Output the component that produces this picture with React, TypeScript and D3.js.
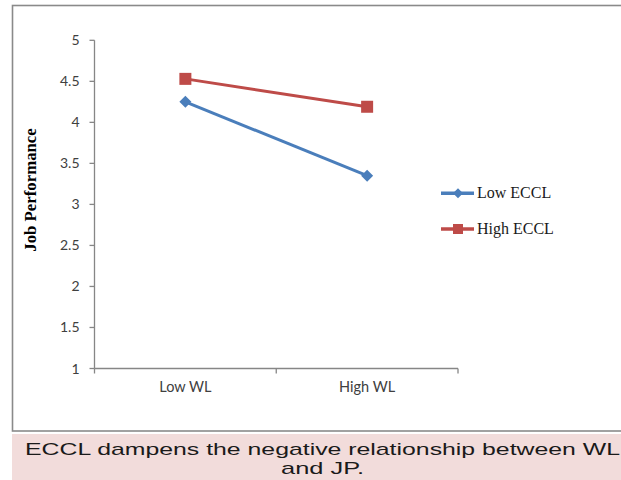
import React from "react";
import * as d3 from "d3";

const categories = ["Low WL", "High WL"];
const lowECCL = [4.25, 3.35];
const highECCL = [4.53, 4.19];
const yTicks = [1, 1.5, 2, 2.5, 3, 3.5, 4, 4.5, 5];
const seriesNames = ["Low ECCL", "High ECCL"];
const yTitle = "Job Performance";
const captionLines = ["ECCL dampens the negative relationship between WL", "and JP."];

const BLUE = "#4A7EBB";
const RED = "#BE4B48";

export default function App() {
  const W = 621;
  const H = 480;
  const x = d3.scaleBand<string>().domain(categories).range([94.5, 458]);
  const y = d3.scaleLinear().domain([1, 5]).range([368.5, 40.3]);
  const cx = (c: string) => (x(c) as number) + x.bandwidth() / 2;

  const line = d3
    .line<number>()
    .x((_, i) => cx(categories[i]))
    .y((d) => y(d));

  const diamond = (px: number, py: number, r: number) =>
    `M${px},${py - r}L${px + r},${py}L${px},${py + r}L${px - r},${py}Z`;

  const bounds = [94.5, ...categories.map((c) => (x(c) as number) + x.bandwidth())];

  const series = [
    { name: seriesNames[0], values: lowECCL, color: BLUE, marker: "diamond" },
    { name: seriesNames[1], values: highECCL, color: RED, marker: "square" },
  ];

  return (
    <svg
      width={W}
      height={H}
      style={{ position: "absolute", left: 0, top: 0, display: "block", background: "#fff" }}
    >
      {/* outer frame */}
      <rect x={12.5} y={5.5} width={W + 20} height={425.5} fill="#fff" stroke="#8a8a8a" strokeWidth={1.6} />
      {/* caption box */}
      <rect x={12} y={434} width={W} height={H - 434} fill="#F2DCDB" />
      <text
        x={25}
        y={455}
        fontFamily="'Liberation Sans', Arial, sans-serif"
        fontSize={17}
        fill="#1a1a1a"
        textLength={595}
        lengthAdjust="spacingAndGlyphs"
      >
        {captionLines[0]}
      </text>
      <text
        x={281}
        y={474}
        fontFamily="'Liberation Sans', Arial, sans-serif"
        fontSize={17}
        fill="#1a1a1a"
        textLength={83}
        lengthAdjust="spacingAndGlyphs"
      >
        {captionLines[1]}
      </text>

      {/* y axis */}
      <line x1={94.5} x2={94.5} y1={y(5)} y2={y(1)} stroke="#868686" strokeWidth={1.3} />
      {yTicks.map((t) => (
        <g key={t}>
          <line x1={89.5} x2={94.5} y1={y(t)} y2={y(t)} stroke="#868686" strokeWidth={1.3} />
          <text
            x={79.5}
            y={y(t) + 5}
            textAnchor="end"
            fontFamily="Lato, 'Open Sans', sans-serif"
            fontSize={14}
            fill="#404040"
          >
            {String(t)}
          </text>
        </g>
      ))}
      {/* x axis */}
      <line x1={94.5} x2={458} y1={y(1)} y2={y(1)} stroke="#868686" strokeWidth={1.3} />
      {bounds.map((b, i) => (
        <line key={i} x1={b} x2={b} y1={y(1)} y2={y(1) + 5} stroke="#868686" strokeWidth={1.3} />
      ))}
      {categories.map((c) => (
        <text
          key={c}
          x={cx(c)}
          y={392}
          textAnchor="middle"
          fontFamily="Lato, 'Open Sans', sans-serif"
          fontSize={14.5}
          fill="#404040"
        >
          {c}
        </text>
      ))}

      {/* y title */}
      <text
        transform={`translate(36,190) rotate(-90)`}
        textAnchor="middle"
        fontFamily="'Liberation Serif', 'Times New Roman', serif"
        fontWeight="bold"
        fontSize={16.8}
        fill="#000"
      >
        {yTitle}
      </text>

      {/* series */}
      {series.map((s) => (
        <g key={s.name}>
          <path d={line(s.values) as string} fill="none" stroke={s.color} strokeWidth={3} />
          {s.values.map((v, i) => {
            const px = cx(categories[i]);
            const py = y(v);
            return s.marker === "square" ? (
              <rect key={i} x={px - 6} y={py - 6} width={12} height={12} fill={s.color} />
            ) : (
              <path key={i} d={diamond(px, py, 6)} fill={s.color} />
            );
          })}
        </g>
      ))}

      {/* legend */}
      {series.map((s, i) => {
        const ly = i === 0 ? 193.3 : 229;
        return (
          <g key={s.name}>
            <line x1={441} x2={474} y1={ly} y2={ly} stroke={s.color} strokeWidth={3.5} />
            {s.marker === "square" ? (
              <rect x={458 - 5} y={ly - 5} width={10} height={10} fill={s.color} />
            ) : (
              <path d={diamond(458, ly, 5)} fill={s.color} />
            )}
            <text
              x={477}
              y={ly + 5}
              fontFamily="'Liberation Serif', 'Times New Roman', serif"
              fontSize={16}
              fill="#1a1a1a"
            >
              {s.name}
            </text>
          </g>
        );
      })}
    </svg>
  );
}
